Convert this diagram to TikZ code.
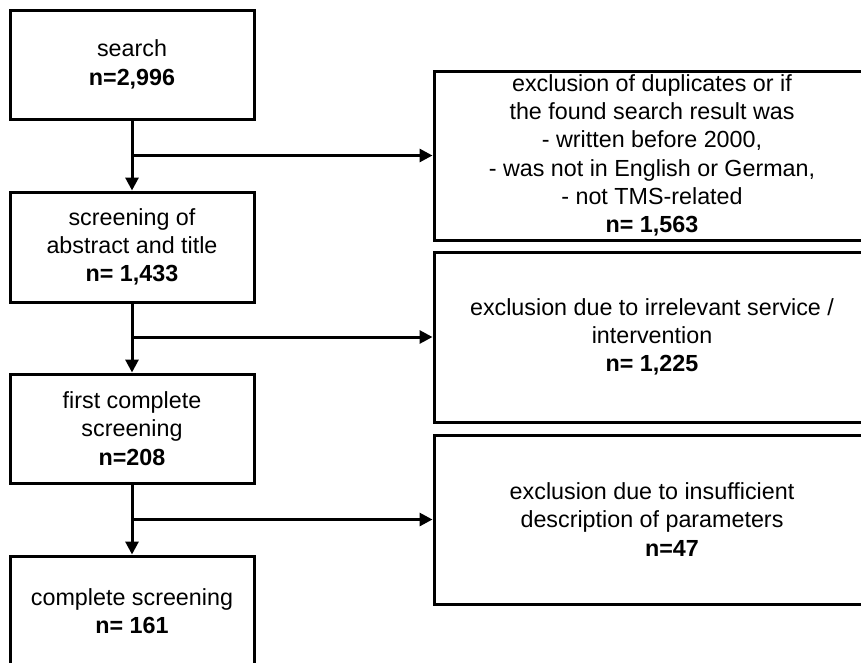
\documentclass[tikz,border=0pt]{standalone}
\usepackage{fontspec}
\setmainfont{Liberation Sans}
\usetikzlibrary{arrows.meta}
\begin{document}
\begin{tikzpicture}[x=1pt,y=1pt,
  box/.style={draw=black,line width=3pt,inner sep=0pt,align=center,
    font=\fontsize{23.3}{28.3}\selectfont},
  lbox/.style={box,minimum width=244pt},
  rbox/.style={box,minimum width=436pt},
  conn/.style={line width=3pt,-{Triangle[length=13pt,width=13pt]}},
  line/.style={line width=3pt}]
\path[use as bounding box,clip] (0,0) rectangle (861,-662);
\fill[white] (0,0) rectangle (861,-662);
% left column
\node[lbox,minimum height=109pt] (b1) at (132,-64.5) {search\\\textbf{n=2,996}};
\node[lbox,minimum height=110pt] (b2) at (132,-247) {screening of\\abstract and title\\\textbf{n= 1,433}};
\node[lbox,minimum height=109pt] (b3) at (132,-428.5) {first complete\\screening\\\textbf{n=208}};
\node[lbox,minimum height=110pt] (b4) at (132,-611) {complete screening\\\textbf{n= 161}};
% right column
\node[rbox,minimum height=169pt] (r1) at (652,-155.5) {exclusion of duplicates or if\\the found search result was\\- written before 2000,\\- was not in English or German,\\- not TMS-related\\\textbf{n= 1,563}};
\node[rbox,minimum height=170pt] (r2) at (652,-337) {exclusion due to irrelevant service /\\intervention\\\textbf{n= 1,225}};
\node[rbox,minimum height=169pt] (r3) at (652,-519.5) {exclusion due to insufficient\\description of parameters\\\hspace*{40pt}\textbf{n=47}};
% connectors
\draw[conn] (b1.south) -- (b2.north);
\draw[conn] (b2.south) -- (b3.north);
\draw[conn] (b3.south) -- (b4.north);
\draw[conn] (b1.south |- r1.west) -- (r1.west);
\draw[conn] (b2.south |- r2.west) -- (r2.west);
\draw[conn] (b3.south |- r3.west) -- (r3.west);
\end{tikzpicture}
\end{document}
